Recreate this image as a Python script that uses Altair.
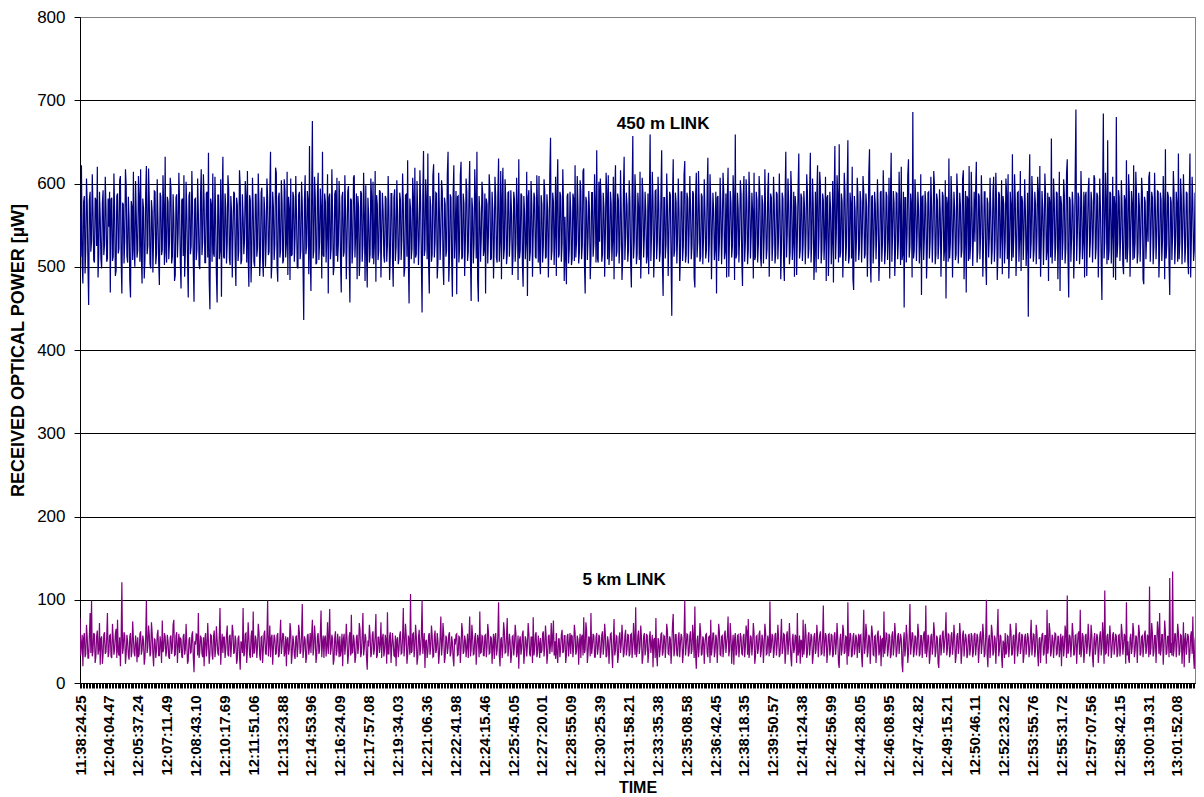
import json
import altair as alt
import pandas as pd

time_labels = [
    "11:38:24.25", "12:04:04.47", "12:05:37.24", "12:07:11.49", "12:08:43.10",
    "12:10:17.69", "12:11:51.06", "12:13:23.88", "12:14:53.96", "12:16:24.09",
    "12:17:57.08", "12:19:34.03", "12:21:06.36", "12:22:41.98", "12:24:15.46",
    "12:25:45.05", "12:27:20.01", "12:28:55.09", "12:30:25.39", "12:31:58.21",
    "12:33:35.38", "12:35:08.58", "12:36:42.45", "12:38:18.35", "12:39:50.57",
    "12:41:24.38", "12:42:56.99", "12:44:28.05", "12:46:08.95", "12:47:42.82",
    "12:49:15.21", "12:50:46.11", "12:52:23.22", "12:53:55.76", "12:55:31.72",
    "12:57:07.56", "12:58:42.15", "13:00:19.31", "13:01:52.08",
]

# received power, 450 m link (uW) - 40 samples per labelled interval
link_450m = [
    560, 512, 622, 505, 480, 578, 585, 492, 520, 606, 575, 502, 454, 580, 590, 518, 530, 611, 568, 508, 505, 583, 580, 525, 620, 487, 515, 590, 560, 509, 498, 576, 592, 514, 527, 608, 571, 506, 510, 582,
    548, 590, 469, 581, 583, 507, 512, 612, 566, 489, 495, 585, 588, 516, 522, 604, 609, 510, 468, 577, 575, 504, 530, 617, 597, 513, 505, 584, 558, 484, 463, 579, 572, 508, 614, 520, 500, 603, 561, 511,
    520, 609, 586, 506, 617, 512, 480, 582, 570, 486, 508, 588, 621, 515, 525, 618, 580, 504, 498, 580, 566, 493, 535, 591, 590, 503, 515, 605, 557, 506, 478, 589, 584, 514, 520, 610, 568, 502, 632, 517,
    505, 584, 578, 509, 530, 607, 595, 504, 512, 587, 560, 483, 490, 583, 587, 511, 540, 613, 575, 506, 474, 580, 582, 513, 610, 488, 518, 602, 566, 507, 463, 585, 590, 515, 525, 615, 572, 503, 458, 581,
    582, 508, 520, 606, 565, 502, 497, 584, 617, 514, 530, 611, 579, 505, 505, 588, 590, 511, 637, 485, 449, 582, 575, 506, 612, 516, 512, 608, 560, 490, 457, 586, 586, 509, 520, 605, 464, 579, 632, 512,
    510, 588, 571, 504, 528, 610, 593, 510, 502, 585, 566, 487, 540, 590, 588, 513, 477, 583, 574, 507, 520, 616, 597, 503, 508, 587, 561, 515, 533, 603, 585, 505, 615, 511, 476, 586, 580, 481, 515, 607,
    569, 506, 500, 587, 587, 512, 523, 612, 574, 489, 512, 589, 595, 509, 488, 584, 566, 500, 530, 606, 583, 514, 518, 588, 638, 486, 505, 590, 571, 508, 527, 619, 613, 502, 482, 583, 589, 511, 520, 604,
    577, 504, 508, 605, 592, 511, 528, 614, 490, 584, 570, 484, 606, 513, 515, 590, 584, 506, 535, 609, 562, 500, 498, 586, 590, 509, 520, 602, 575, 503, 436, 580, 610, 515, 525, 591, 580, 491, 645, 512,
    471, 585, 675, 510, 520, 608, 584, 503, 505, 590, 613, 508, 530, 594, 570, 486, 638, 514, 512, 588, 578, 505, 540, 611, 468, 583, 588, 509, 522, 617, 565, 490, 500, 587, 592, 513, 607, 506, 528, 603,
    575, 507, 469, 584, 590, 512, 518, 610, 566, 485, 530, 590, 597, 509, 457, 582, 580, 504, 522, 607, 610, 511, 540, 588, 485, 585, 572, 489, 510, 591, 588, 506, 526, 613, 563, 483, 598, 514, 475, 583,
    560, 505, 515, 606, 585, 510, 602, 503, 530, 615, 482, 586, 574, 508, 520, 592, 590, 487, 538, 589, 568, 513, 505, 585, 582, 506, 526, 609, 571, 484, 512, 588, 588, 511, 476, 583, 593, 507, 524, 604,
    566, 503, 510, 589, 580, 508, 532, 612, 575, 488, 498, 586, 587, 512, 628, 505, 456, 582, 570, 509, 522, 607, 584, 504, 619, 511, 515, 603, 560, 502, 535, 616, 578, 507, 445, 584, 639, 513, 520, 605,
    580, 509, 636, 503, 468, 585, 572, 506, 515, 609, 623, 511, 530, 589, 588, 486, 505, 613, 566, 508, 540, 604, 591, 504, 478, 583, 575, 512, 520, 611, 638, 482, 510, 587, 583, 507, 464, 586, 622, 510,
    540, 591, 467, 584, 585, 505, 522, 610, 626, 509, 512, 588, 576, 489, 530, 606, 590, 507, 518, 589, 627, 512, 459, 583, 570, 504, 528, 617, 582, 510, 638, 485, 458, 585, 566, 506, 535, 602, 588, 513,
    520, 588, 468, 582, 575, 504, 540, 611, 592, 508, 510, 590, 568, 486, 527, 608, 584, 511, 505, 587, 630, 506, 530, 615, 485, 584, 619, 509, 522, 605, 578, 503, 515, 589, 590, 512, 535, 592, 563, 490,
    512, 590, 581, 506, 528, 607, 570, 484, 629, 510, 520, 588, 586, 504, 476, 585, 565, 509, 530, 614, 465, 583, 592, 507, 518, 603, 575, 488, 540, 589, 583, 512, 510, 610, 569, 505, 609, 508, 491, 586,
    575, 505, 525, 605, 590, 510, 512, 587, 568, 487, 535, 612, 655, 508, 520, 589, 578, 502, 540, 608, 489, 584, 629, 511, 515, 590, 585, 506, 528, 617, 572, 483, 560, 509, 479, 585, 588, 504, 522, 590,
    566, 502, 510, 588, 582, 507, 622, 511, 530, 609, 574, 504, 518, 604, 591, 509, 525, 615, 618, 503, 468, 584, 578, 508, 535, 591, 566, 485, 512, 589, 589, 512, 527, 611, 575, 505, 640, 510, 505, 602,
    530, 606, 584, 506, 515, 589, 571, 488, 540, 613, 588, 509, 610, 502, 522, 590, 576, 507, 532, 608, 485, 585, 622, 512, 518, 588, 580, 504, 527, 616, 566, 484, 510, 591, 632, 508, 536, 589, 574, 506,
    520, 604, 578, 505, 475, 584, 657, 510, 530, 611, 585, 503, 515, 589, 570, 508, 614, 486, 525, 607, 588, 511, 536, 590, 567, 504, 512, 588, 491, 585, 659, 507, 540, 614, 580, 487, 522, 591, 592, 509,
    530, 608, 575, 506, 518, 588, 640, 503, 465, 583, 583, 510, 527, 612, 571, 489, 540, 590, 586, 508, 441, 582, 629, 512, 520, 589, 577, 504, 535, 606, 568, 483, 512, 590, 590, 507, 525, 610, 627, 505,
    515, 589, 582, 504, 540, 609, 570, 509, 525, 591, 588, 487, 475, 584, 613, 511, 530, 615, 575, 506, 512, 588, 584, 503, 536, 605, 566, 510, 520, 590, 631, 505, 528, 611, 579, 485, 541, 589, 568, 508,
    522, 590, 468, 583, 585, 507, 530, 607, 572, 503, 540, 613, 590, 509, 518, 588, 487, 585, 619, 488, 535, 591, 577, 511, 525, 610, 582, 484, 659, 510, 515, 589, 570, 505, 536, 604, 588, 508, 477, 584,
    609, 506, 530, 605, 578, 503, 520, 614, 586, 510, 538, 589, 566, 486, 613, 508, 512, 590, 580, 505, 527, 609, 590, 511, 500, 586, 575, 504, 535, 617, 568, 509, 522, 590, 613, 488, 540, 588, 583, 507,
    528, 608, 575, 504, 515, 590, 587, 509, 536, 612, 570, 485, 523, 589, 582, 506, 483, 584, 638, 511, 540, 606, 578, 503, 518, 615, 589, 508, 530, 590, 488, 585, 572, 490, 535, 592, 636, 510, 520, 588,
    583, 507, 527, 591, 570, 503, 540, 611, 588, 510, 522, 589, 637, 505, 530, 606, 576, 484, 515, 590, 493, 586, 622, 509, 536, 614, 597, 504, 520, 588, 580, 508, 538, 608, 483, 583, 586, 489, 525, 590,
    570, 503, 530, 603, 481, 584, 645, 509, 540, 610, 585, 505, 647, 511, 518, 588, 578, 487, 532, 613, 590, 507, 525, 591, 652, 504, 512, 589, 575, 510, 620, 486, 472, 585, 568, 506, 535, 607, 584, 508,
    522, 591, 578, 505, 540, 609, 590, 510, 515, 588, 572, 488, 530, 612, 641, 507, 481, 584, 586, 504, 527, 590, 575, 509, 540, 605, 568, 483, 512, 589, 591, 506, 530, 616, 579, 503, 520, 590, 585, 508,
    535, 607, 486, 585, 637, 506, 540, 591, 577, 489, 522, 589, 588, 509, 530, 614, 570, 502, 620, 508, 515, 590, 451, 583, 583, 505, 538, 610, 629, 511, 525, 588, 574, 487, 686, 510, 520, 605, 580, 507,
    540, 590, 568, 504, 527, 611, 466, 584, 585, 508, 535, 591, 575, 486, 518, 589, 590, 510, 530, 608, 572, 505, 540, 615, 597, 503, 515, 588, 580, 509, 528, 593, 566, 488, 538, 590, 585, 507, 520, 604,
    462, 584, 575, 506, 630, 510, 528, 609, 580, 487, 540, 590, 568, 508, 515, 612, 588, 504, 532, 589, 573, 511, 520, 606, 616, 485, 537, 591, 469, 585, 582, 507, 621, 509, 525, 614, 570, 501, 538, 590,
    530, 591, 626, 505, 518, 588, 585, 509, 540, 610, 572, 488, 527, 590, 590, 507, 478, 583, 576, 511, 535, 607, 568, 503, 520, 589, 608, 506, 532, 613, 580, 484, 515, 590, 587, 510, 540, 604, 491, 585,
    575, 504, 530, 606, 588, 509, 611, 486, 520, 590, 572, 507, 635, 511, 538, 611, 580, 489, 525, 589, 590, 506, 533, 615, 495, 585, 578, 508, 540, 605, 566, 501, 527, 589, 440, 583, 635, 510, 530, 609,
    582, 506, 520, 590, 575, 503, 537, 608, 590, 509, 621, 488, 528, 591, 570, 502, 540, 612, 585, 508, 518, 589, 483, 584, 576, 511, 654, 504, 532, 606, 580, 507, 525, 590, 588, 485, 540, 614, 471, 585,
    575, 508, 530, 605, 586, 504, 522, 612, 629, 510, 463, 584, 580, 506, 535, 590, 572, 486, 527, 609, 689, 507, 540, 589, 583, 503, 520, 615, 576, 509, 532, 590, 487, 585, 590, 489, 538, 591, 607, 511,
    530, 590, 578, 505, 540, 610, 606, 509, 522, 589, 585, 487, 535, 606, 570, 507, 460, 584, 684, 510, 530, 613, 576, 503, 652, 508, 520, 590, 588, 504, 540, 608, 487, 585, 572, 484, 680, 511, 528, 592,
    583, 507, 535, 604, 570, 503, 491, 586, 580, 509, 628, 505, 525, 611, 588, 488, 540, 591, 575, 508, 622, 510, 530, 614, 585, 504, 518, 589, 572, 506, 540, 607, 590, 485, 479, 584, 578, 509, 536, 591,
    530, 607, 614, 506, 540, 590, 583, 503, 525, 613, 575, 509, 537, 591, 590, 487, 520, 589, 580, 507, 532, 609, 572, 485, 641, 510, 528, 590, 585, 505, 466, 584, 578, 508, 540, 615, 588, 503, 530, 590,
    575, 506, 636, 509, 530, 606, 585, 503, 540, 611, 572, 505, 525, 590, 588, 508, 491, 585, 636, 487, 535, 608, 578, 507, 520, 589, 586, 504, 540, 612, 570, 490, 528, 591, 464, 583, 582, 506, 613, 509,
]

# received power, 5 km link (uW)
link_5km = [
    78, 33, 45, 58, 20, 54, 60, 31, 35, 70, 55, 30, 30, 57, 84, 36, 99, 32, 38, 60, 58, 24, 32, 56, 63, 34, 40, 72, 22, 53, 56, 23, 34, 58, 61, 35, 37, 55, 84, 31,
    36, 57, 58, 32, 30, 71, 54, 34, 41, 59, 65, 30, 76, 37, 33, 55, 20, 52, 121, 35, 42, 61, 57, 23, 35, 58, 50, 33, 28, 56, 60, 31, 38, 74, 53, 36, 32, 57, 48, 25,
    55, 31, 35, 59, 62, 34, 40, 57, 51, 22, 30, 55, 99, 36, 44, 69, 58, 32, 36, 73, 60, 35, 20, 53, 52, 30, 39, 58, 64, 33, 33, 56, 47, 24, 75, 37, 41, 60, 56, 32,
    38, 58, 50, 31, 29, 55, 57, 35, 42, 70, 76, 33, 34, 57, 61, 24, 45, 59, 36, 54, 53, 32, 30, 56, 59, 34, 40, 71, 48, 23, 27, 52, 55, 36, 37, 58, 62, 31, 13, 50,
    46, 59, 58, 33, 84, 30, 38, 57, 54, 35, 31, 55, 20, 53, 60, 32, 42, 72, 49, 23, 35, 58, 57, 34, 28, 56, 63, 31, 40, 68, 52, 36, 33, 57, 90, 22, 44, 59, 36, 55,
    55, 30, 40, 58, 69, 34, 32, 56, 58, 31, 45, 70, 62, 35, 37, 57, 51, 23, 29, 54, 57, 33, 16, 50, 48, 36, 90, 32, 35, 59, 60, 24, 41, 73, 54, 34, 30, 56, 63, 31,
    86, 35, 38, 57, 52, 30, 44, 71, 61, 33, 27, 55, 56, 24, 40, 59, 63, 36, 34, 56, 99, 32, 46, 69, 31, 54, 58, 22, 42, 58, 54, 34, 36, 57, 60, 31, 33, 55, 76, 35,
    45, 60, 58, 32, 37, 56, 20, 52, 55, 34, 41, 72, 63, 23, 35, 57, 50, 33, 29, 55, 57, 31, 43, 70, 61, 35, 38, 58, 95, 30, 40, 56, 52, 24, 32, 57, 59, 34, 44, 60,
    36, 58, 76, 33, 42, 69, 55, 24, 33, 56, 60, 35, 39, 59, 87, 31, 47, 57, 30, 54, 57, 32, 44, 73, 35, 55, 89, 34, 41, 58, 53, 22, 28, 55, 62, 33, 38, 59, 50, 31,
    56, 32, 40, 59, 20, 53, 59, 34, 45, 71, 53, 23, 34, 56, 61, 33, 82, 36, 37, 58, 50, 24, 31, 55, 58, 35, 43, 72, 64, 31, 36, 57, 84, 33, 42, 59, 55, 30, 16, 51,
    44, 70, 57, 31, 36, 58, 62, 34, 41, 57, 83, 30, 33, 55, 55, 36, 46, 73, 30, 54, 59, 32, 38, 58, 52, 23, 85, 35, 35, 56, 61, 24, 43, 60, 49, 33, 32, 57, 20, 52,
    55, 31, 40, 58, 62, 35, 36, 56, 90, 32, 45, 71, 58, 23, 33, 57, 51, 34, 107, 36, 38, 59, 60, 31, 43, 70, 56, 22, 30, 55, 64, 33, 41, 58, 99, 35, 47, 60, 18, 50,
    52, 30, 37, 57, 60, 34, 43, 69, 57, 31, 32, 56, 63, 36, 40, 60, 50, 23, 35, 55, 80, 33, 45, 72, 58, 24, 31, 57, 54, 35, 42, 58, 61, 32, 36, 56, 49, 30, 20, 53,
    46, 58, 59, 33, 34, 56, 55, 24, 41, 72, 62, 35, 38, 57, 51, 31, 44, 59, 30, 54, 80, 32, 40, 70, 57, 34, 35, 55, 60, 22, 43, 58, 52, 31, 86, 36, 37, 57, 56, 33,
    33, 57, 58, 31, 42, 71, 61, 35, 36, 56, 54, 23, 45, 59, 29, 55, 60, 33, 39, 58, 97, 34, 20, 52, 55, 30, 43, 73, 62, 36, 37, 57, 78, 32, 41, 59, 50, 24, 34, 56,
    57, 33, 44, 70, 60, 31, 38, 57, 17, 51, 56, 34, 41, 59, 63, 23, 35, 56, 52, 32, 46, 72, 59, 35, 32, 55, 55, 24, 79, 33, 40, 58, 61, 31, 36, 57, 48, 30, 54, 36,
    39, 59, 62, 32, 43, 69, 55, 23, 34, 56, 58, 35, 45, 72, 37, 55, 75, 33, 50, 29, 60, 34, 24, 53, 53, 31, 41, 58, 64, 36, 38, 57, 57, 24, 33, 56, 59, 32, 46, 60,
    35, 58, 56, 31, 42, 70, 61, 34, 38, 57, 52, 22, 47, 59, 30, 55, 58, 33, 79, 36, 40, 73, 63, 24, 36, 56, 54, 32, 84, 35, 44, 59, 57, 31, 31, 55, 60, 34, 41, 58,
    55, 30, 37, 58, 62, 34, 45, 71, 58, 31, 33, 56, 50, 23, 43, 59, 60, 35, 18, 51, 77, 33, 39, 57, 56, 24, 32, 55, 61, 36, 46, 70, 53, 31, 36, 57, 64, 33, 40, 59,
    57, 32, 35, 58, 59, 30, 42, 72, 52, 34, 91, 31, 38, 57, 63, 35, 44, 69, 55, 23, 31, 56, 60, 33, 40, 59, 57, 24, 36, 55, 62, 36, 47, 58, 19, 52, 54, 30, 78, 34,
    20, 54, 51, 31, 41, 59, 60, 33, 37, 57, 56, 30, 45, 71, 62, 35, 34, 56, 53, 23, 43, 70, 83, 32, 39, 58, 58, 34, 32, 55, 61, 31, 47, 59, 55, 24, 36, 57, 99, 33,
    44, 59, 58, 32, 36, 57, 62, 35, 40, 70, 55, 30, 92, 34, 17, 51, 57, 31, 42, 72, 61, 33, 35, 56, 53, 23, 46, 58, 59, 36, 31, 55, 56, 24, 76, 33, 43, 60, 60, 31,
    38, 58, 54, 24, 45, 71, 61, 34, 33, 56, 57, 31, 41, 59, 63, 36, 47, 57, 80, 32, 39, 72, 56, 23, 44, 58, 22, 53, 60, 33, 36, 57, 58, 31, 42, 60, 55, 35, 34, 56,
    59, 31, 43, 69, 62, 34, 77, 30, 37, 57, 55, 33, 46, 72, 60, 23, 32, 56, 57, 35, 41, 59, 63, 31, 38, 58, 53, 24, 45, 71, 61, 34, 35, 57, 50, 32, 98, 36, 44, 59,
    56, 30, 39, 58, 60, 33, 45, 70, 54, 31, 34, 56, 77, 35, 42, 59, 58, 23, 37, 57, 62, 34, 46, 72, 51, 31, 20, 53, 59, 36, 41, 58, 55, 24, 84, 33, 38, 57, 23, 52,
    50, 31, 76, 34, 43, 71, 58, 30, 36, 57, 61, 33, 45, 59, 55, 23, 33, 56, 60, 35, 40, 70, 57, 31, 47, 58, 62, 34, 35, 55, 93, 32, 44, 60, 56, 24, 38, 58, 59, 33,
    42, 59, 57, 31, 35, 57, 61, 34, 46, 72, 53, 24, 18, 52, 59, 33, 40, 70, 63, 35, 37, 56, 55, 22, 97, 32, 44, 60, 58, 31, 33, 55, 60, 34, 41, 58, 54, 30, 47, 59,
    36, 57, 58, 32, 19, 53, 88, 35, 43, 71, 61, 31, 38, 58, 55, 23, 46, 69, 60, 34, 33, 56, 57, 24, 42, 59, 63, 33, 39, 57, 20, 52, 54, 31, 86, 35, 45, 60, 59, 32,
    40, 59, 56, 30, 34, 57, 62, 33, 44, 72, 58, 31, 37, 56, 60, 35, 47, 59, 53, 23, 13, 50, 61, 32, 42, 70, 57, 24, 36, 56, 95, 34, 45, 61, 59, 31, 38, 57, 55, 33,
    43, 71, 60, 32, 35, 57, 57, 30, 46, 59, 62, 35, 93, 31, 40, 58, 55, 23, 33, 56, 59, 34, 44, 73, 61, 31, 38, 57, 54, 24, 18, 52, 58, 33, 42, 60, 63, 36, 47, 58,
    85, 33, 41, 59, 58, 31, 36, 57, 61, 34, 45, 70, 55, 24, 32, 56, 60, 35, 43, 72, 57, 23, 38, 58, 63, 32, 46, 59, 53, 30, 34, 57, 59, 33, 42, 60, 56, 31, 37, 58,
    60, 33, 44, 59, 55, 24, 39, 58, 62, 35, 47, 71, 57, 31, 35, 56, 100, 34, 19, 52, 58, 30, 42, 70, 61, 33, 37, 57, 54, 23, 45, 60, 89, 32, 40, 58, 56, 31, 18, 51,
    48, 30, 60, 34, 37, 57, 56, 31, 43, 71, 62, 33, 35, 56, 58, 23, 46, 72, 53, 32, 39, 58, 61, 35, 42, 59, 57, 24, 33, 55, 59, 34, 45, 60, 55, 31, 38, 57, 76, 33,
    44, 59, 58, 31, 40, 70, 61, 34, 20, 53, 55, 24, 47, 58, 60, 33, 36, 57, 57, 23, 88, 35, 43, 72, 62, 32, 38, 58, 54, 30, 46, 60, 59, 34, 35, 56, 56, 31, 42, 59,
    20, 54, 57, 32, 43, 69, 61, 30, 105, 35, 39, 58, 55, 31, 46, 72, 60, 33, 35, 57, 58, 23, 44, 59, 62, 34, 88, 31, 40, 60, 56, 24, 37, 57, 59, 35, 45, 71, 53, 32,
    41, 70, 58, 31, 19, 53, 60, 34, 46, 59, 55, 24, 38, 57, 62, 33, 43, 73, 57, 23, 111, 35, 36, 56, 59, 32, 47, 69, 54, 30, 40, 58, 61, 34, 44, 59, 56, 31, 35, 57,
    58, 32, 42, 71, 61, 34, 45, 59, 56, 23, 97, 33, 50, 29, 24, 54, 59, 35, 43, 72, 62, 31, 38, 57, 55, 24, 47, 70, 60, 33, 36, 56, 57, 31, 44, 59, 63, 35, 40, 58,
    55, 31, 116, 34, 42, 72, 60, 32, 37, 57, 57, 24, 46, 74, 62, 35, 84, 33, 39, 58, 58, 22, 44, 75, 61, 34, 36, 56, 56, 31, 126, 36, 48, 33, 134, 32, 40, 59, 59, 31,
    45, 71, 61, 33, 38, 58, 57, 23, 43, 73, 19, 52, 60, 34, 47, 59, 55, 24, 36, 57, 62, 35, 80, 32, 17, 51, 58, 30, 44, 70, 60, 33, 39, 58, 63, 31, 46, 59, 56, 32,
]

series_names = ["450 m", "5 km"]
series_colors = ["#000080", "#800080"]

annotation_text = ["450 m LINK", "5 km LINK"]
annotation_idx = [808, 754]
annotation_power = [671, 124]

y_ticks = [0, 100, 200, 300, 400, 500, 600, 700, 800]
LABEL_STEP = 40
X_VISIBLE_MAX = 1545  # last sample index inside the plot frame

n = max(len(link_450m), len(link_5km))
df = pd.DataFrame({
    "idx": list(range(len(link_450m))) + list(range(len(link_5km))),
    "power": link_450m + link_5km,
    "link": [series_names[0]] * len(link_450m) + [series_names[1]] * len(link_5km),
})
ann = pd.DataFrame({"idx": annotation_idx, "power": annotation_power, "label": annotation_text})

FONT = "Liberation Sans"
labels_js = json.dumps(time_labels)
label_expr = (
    f"datum.value % {LABEL_STEP} == 0 ? ({labels_js}[datum.value / {LABEL_STEP}] || '') : ''"
)

x_enc = alt.X(
    "idx:Q",
    scale=alt.Scale(domain=[0, X_VISIBLE_MAX], nice=False, zero=False),
    axis=alt.Axis(
        values=list(range(0, X_VISIBLE_MAX + 1, 2)),
        labelExpr=label_expr,
        labelAngle=270,
        labelFont=FONT,
        labelFontSize=15,
        labelFontWeight="bold",
        labelColor="black",
        labelPadding=7,
        labelOverlap=False,
        labelFlush=False,
        labelBound=False,
        tickSize=5,
        tickColor="black",
        tickWidth=1,
        domainColor="black",
        grid=False,
        title="TIME",
        titleFont=FONT,
        titleFontSize=16,
        titleFontWeight="bold",
        titleColor="black",
        titleBaseline="top",
        titleY=96,
    ),
)

y_enc = alt.Y(
    "power:Q",
    scale=alt.Scale(domain=[0, 800], nice=False),
    axis=alt.Axis(
        values=y_ticks,
        labelFont=FONT,
        labelFontSize=17,
        labelColor="black",
        labelPadding=9,
        tickSize=6,
        tickColor="black",
        domainColor="black",
        grid=True,
        gridColor={"condition": {"test": "datum.value >= 800", "value": "#808080"}, "value": "black"},
        gridWidth=1,
        title="RECEIVED OPTICAL POWER [µW]",
        titleFont=FONT,
        titleFontSize=18,
        titleFontWeight="bold",
        titleColor="black",
        titleAngle=270,
        titleAlign="center",
        titleBaseline="middle",
        titleX=-62,
        titleY=333,
    ),
)

lines = alt.Chart(df).mark_line(strokeWidth=1.2, interpolate="linear", clip=True).encode(
    x=x_enc,
    y=y_enc,
    color=alt.Color("link:N", scale=alt.Scale(domain=series_names, range=series_colors), legend=None),
    order="idx:Q",
)

texts = alt.Chart(ann).mark_text(
    font=FONT, fontSize=17, fontWeight="bold", color="black", align="center", baseline="middle"
).encode(x=x_enc, y=y_enc, text="label:N")

chart = alt.layer(lines, texts).properties(
    width=1115,
    height=666,
    autosize=alt.AutoSizeParams(type="none"),
    padding={"left": 72, "top": 9, "right": 1, "bottom": 112},
    background="white",
).configure_view(stroke="#808080", strokeWidth=1)

chart.save("out.html", embed_options={"renderer": "svg", "actions": False})
